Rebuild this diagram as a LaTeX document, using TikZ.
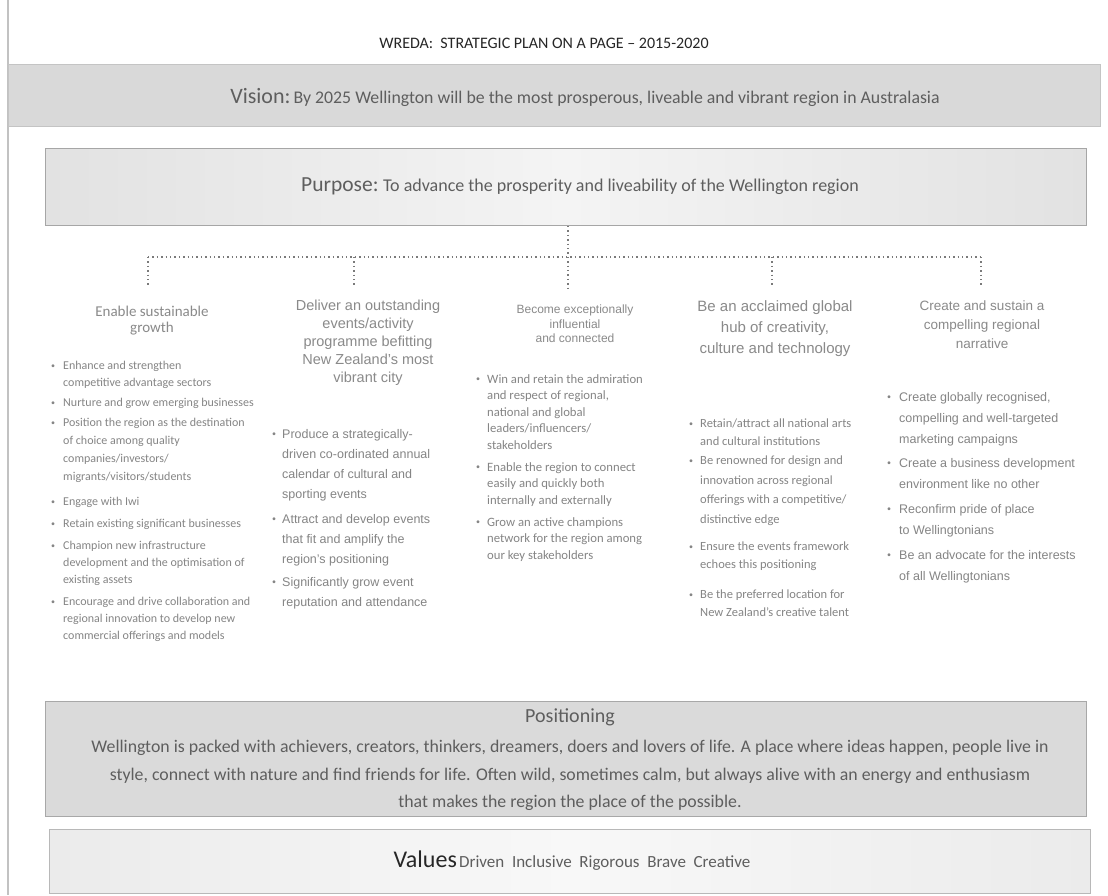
\documentclass[tikz,border=0pt]{standalone}
\usepackage{fontspec}
\setmainfont{Carlito}
\newfontfamily\arial{Liberation Sans}
\newcommand{\fs}[2]{\fontsize{#1}{#2}\selectfont}
\definecolor{visionfill}{HTML}{D9D9D9}
\definecolor{visionedge}{HTML}{C4C4C4}
\definecolor{purposeside}{HTML}{E2E2E2}
\definecolor{purposemid}{HTML}{F4F4F4}
\definecolor{purposeedge}{HTML}{A6A6A6}
\definecolor{posfill}{HTML}{DADADA}
\definecolor{posedge}{HTML}{A8A8A8}
\definecolor{valside}{HTML}{EBEBEB}
\definecolor{valmid}{HTML}{F8F8F8}
\definecolor{valedge}{HTML}{B8B8B8}
\definecolor{titlegray}{HTML}{262626}
\definecolor{bodygray}{HTML}{858585}
\definecolor{hdrgray}{HTML}{8A8A8A}
\definecolor{bandtext}{HTML}{5E5E5E}
\definecolor{dotgray}{HTML}{7A7A7A}
\definecolor{railgray}{HTML}{C2C2C2}
\tikzset{
  txt/.style={inner sep=0pt, text=bodygray},
  itembox/.style={txt, anchor=north west, align=left},
  bul/.style={txt, anchor=center, font=\fs{8}{8}},
  hdr/.style={inner sep=0pt, anchor=north, align=center, text=hdrgray},
  dots/.style={draw=dotgray, line width=1.1pt, dash pattern=on 1.4pt off 3pt},
  band/.style={inner sep=0pt, line width=1pt},
}
% name, bullet x, text x, first-line centre y, font, text
\newcommand{\bitem}[6]{%
  \node[bul] (#1b) at (#2,#4) {\textbullet};
  \node[itembox, font=#5] (#1) at (#3,#4-6) {#6};}
\begin{document}
\begin{tikzpicture}[x=1pt,y=-1pt]
\useasboundingbox (0,0) rectangle (1108,895);
\fill[white] (0,0) rectangle (1108,895);
% left rail
\draw[railgray, line width=1.3pt] (8,0) -- (8,895);

% title
\node[inner sep=0pt, text=titlegray, font=\fs{16}{18}] (title) at (544,43)
  {WREDA:\ \ STRATEGIC PLAN ON A PAGE – 2015-2020};

% vision band
\node[band, draw=visionedge, fill=visionfill, minimum width=1092pt, minimum height=62pt,
  anchor=north west] (vision) at (8,64) {};
\node[inner sep=0pt, text=bandtext] (visiontext) at (585,97)
  {{\fs{22}{24}Vision:} {\fs{17.8}{20}By 2025 Wellington will be the most prosperous, liveable and vibrant region in Australasia}};

% purpose band
\node[band, draw=purposeedge, left color=purposeside, right color=purposeside, middle color=purposemid,
  minimum width=1041pt, minimum height=77pt, anchor=north west] (purpose) at (45,148) {};
\node[inner sep=0pt, text=bandtext] (purposetext) at (580,186)
  {{\fs{21.5}{24}Purpose:}\ \ {\fs{18}{20}To advance the prosperity and liveability of the Wellington region}};

% dotted tree
\coordinate (hub) at (568,257);
\coordinate (hubend) at (568,288);
\coordinate (l1) at (148,257);
\coordinate (l2) at (354,257);
\coordinate (l4) at (772,257);
\coordinate (l5) at (981,257);
\coordinate (e1) at (148,287);
\coordinate (e2) at (354,287);
\coordinate (e4) at (772,287);
\coordinate (e5) at (981,287);
\draw[dots] (purpose.south -| hub) -- (hubend);
\draw[dots] (l1) -- (l5);
\draw[dots] (l1) -- (e1);
\draw[dots] (l2) -- (e2);
\draw[dots] (l4) -- (e4);
\draw[dots] (l5) -- (e5);

% column 1
\node[hdr, font=\fs{15}{16}] (h1) at (152,306) {Enable sustainable\\growth};
\bitem{a1}{53}{63}{367}{\fs{12}{17}}{Enhance and strengthen\\competitive advantage sectors}
\bitem{a2}{53}{63}{404}{\fs{12}{17}}{Nurture and grow emerging businesses}
\bitem{a3}{53}{63}{424}{\fs{12}{18}}{Position the region as the destination\\of choice among quality\\companies/investors/\\migrants/visitors/students}
\bitem{a4}{53}{63}{503}{\fs{12}{17}}{Engage with Iwi}
\bitem{a5}{53}{63}{525}{\fs{12}{17}}{Retain existing significant businesses}
\bitem{a6}{53}{63}{547}{\fs{12}{17}}{Champion new infrastructure\\development and the optimisation of\\existing assets}
\bitem{a7}{53}{63}{603}{\fs{12}{17}}{Encourage and drive collaboration and\\regional innovation to develop new\\commercial offerings and models}

% column 2
\node[hdr, font=\arial\fs{14.5}{18}] (h2) at (368,300) {Deliver an outstanding\\events/activity\\programme befitting\\New Zealand’s most\\vibrant city};
\bitem{b1}{274}{282}{435}{\arial\fs{12.5}{20}}{Produce a strategically-\\driven co-ordinated annual\\calendar of cultural and\\sporting events}
\bitem{b2}{274}{282}{520}{\arial\fs{12.5}{20}}{Attract and develop events\\that fit and amplify the\\region’s positioning}
\bitem{b3}{274}{282}{583}{\arial\fs{12.5}{20}}{Significantly grow event\\reputation and attendance}

% column 3
\node[hdr, font=\arial\fs{12}{14.5}] (h3) at (575,305) {Become exceptionally\\influential\\and connected};
\bitem{c1}{478}{487}{380}{\fs{12.7}{16.5}}{Win and retain the admiration\\and respect of regional,\\national and global\\leaders/influencers/\\stakeholders}
\bitem{c2}{478}{487}{468}{\fs{12.7}{16.5}}{Enable the region to connect\\easily and quickly both\\internally and externally}
\bitem{c3}{478}{487}{523}{\fs{12.7}{16.5}}{Grow an active champions\\network for the region among\\our key stakeholders}

% column 4
\node[hdr, font=\arial\fs{15}{21}] (h4) at (775,300) {Be an acclaimed global\\hub of creativity,\\culture and technology};
\bitem{d1}{691}{700}{425}{\fs{12.5}{18}}{Retain/attract all national arts\\and cultural institutions}
\bitem{d2}{691}{700}{462}{\fs{12.5}{19.5}}{Be renowned for design and\\innovation across regional\\offerings with a competitive/\\distinctive edge}
\bitem{d3}{691}{700}{548}{\fs{12.5}{18}}{Ensure the events framework\\echoes this positioning}
\bitem{d4}{691}{700}{596}{\fs{12.5}{18}}{Be the preferred location for\\New Zealand’s creative talent}

% column 5
\node[hdr, font=\arial\fs{13.5}{19}] (h5) at (982,301) {Create and sustain a\\compelling regional\\narrative};
\bitem{f1}{889}{899}{398}{\arial\fs{12.5}{21}}{Create globally recognised,\\compelling and well-targeted\\marketing campaigns}
\bitem{f2}{889}{899}{464}{\arial\fs{12.5}{21}}{Create a business development\\environment like no other}
\bitem{f3}{889}{899}{510}{\arial\fs{12.5}{21}}{Reconfirm pride of place\\to Wellingtonians}
\bitem{f4}{889}{899}{556}{\arial\fs{12.5}{21}}{Be an advocate for the interests\\of all Wellingtonians}

% positioning band
\node[band, draw=posedge, fill=posfill, minimum width=1041pt, minimum height=115pt,
  anchor=north west] (positioning) at (45,701) {};
\node[inner sep=0pt, text=bandtext, font=\fs{20}{22}] (postitle) at (570,717) {Positioning};
\node[inner sep=0pt, text=bandtext, font=\fs{17.8}{27.5}, align=center, anchor=north] (posbody) at (570,740)
  {Wellington is packed with achievers, creators, thinkers, dreamers, doers and lovers of life. A place where ideas happen, people live in\\
   style, connect with nature and find friends for life. Often wild, sometimes calm, but always alive with an energy and enthusiasm\\
   that makes the region the place of the possible.};

% values band
\node[band, draw=valedge, left color=valside, right color=valside, middle color=valmid,
  minimum width=1041pt, minimum height=64pt, anchor=north west] (values) at (49,829) {};
\node[inner sep=0pt, text=bandtext] (valuestext) at (572,861)
  {{\fs{24}{26}\color{titlegray}Values}\ {\fs{17}{19}Driven\ \ Inclusive\ \ Rigorous\ \ Brave\ \ Creative}};
\end{tikzpicture}
\end{document}
